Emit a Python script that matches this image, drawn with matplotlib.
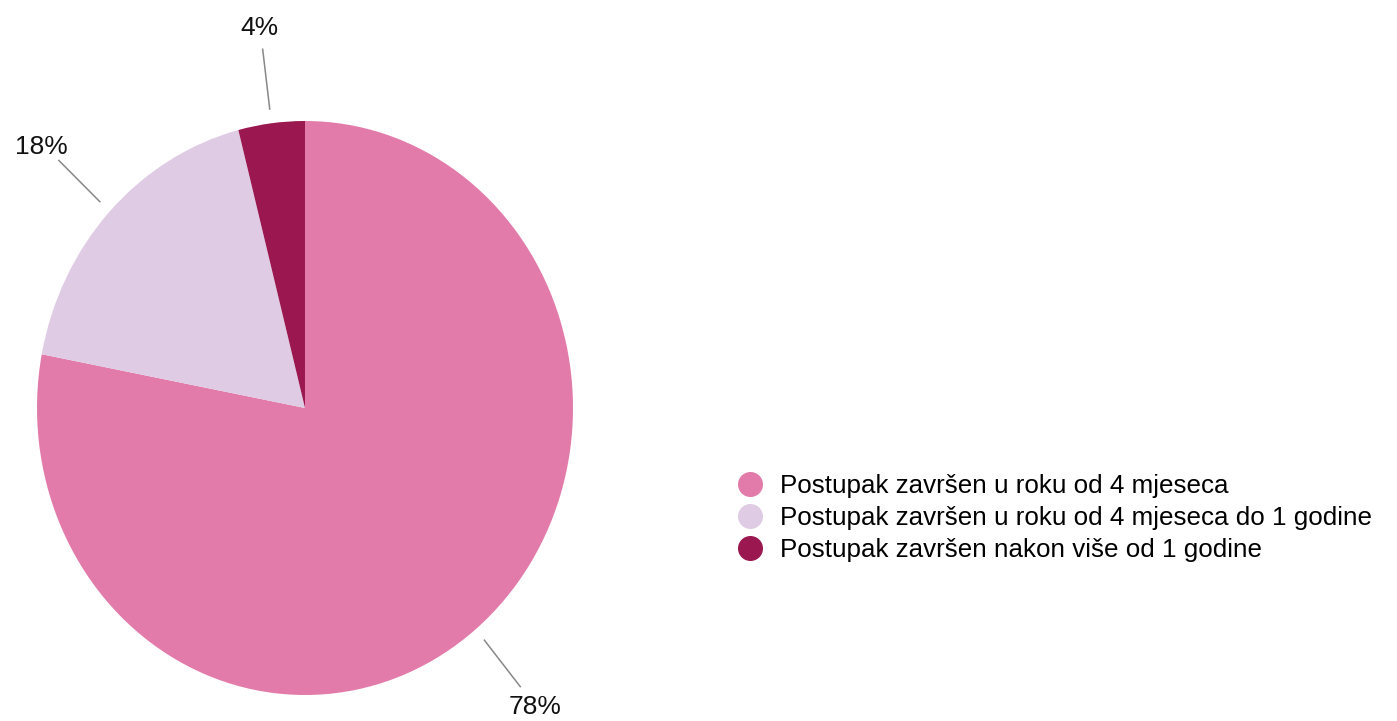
import numpy as np
import matplotlib.pyplot as plt
from matplotlib.lines import Line2D

plt.rcParams['font.family'] = ['Liberation Sans', 'DejaVu Sans']

# podaci
kategorije = ["Postupak završen u roku od 4 mjeseca",
              "Postupak završen u roku od 4 mjeseca do 1 godine",
              "Postupak završen nakon više od 1 godine"]
postoci = [78, 18, 4]
boje = ["#E27BAA", "#DFCCE4", "#9A1750"]

W, H = 1397, 721
fig = plt.figure(figsize=(W / 100, H / 100), dpi=100)

# os za pitu (malo razvucena po visini kao u originalu)
ax = fig.add_axes([37 / W, (H - 695) / H, 536 / W, 574 / H])
klinovi, _ = ax.pie(postoci, colors=boje, startangle=90, counterclock=False,
                    radius=1, wedgeprops=dict(linewidth=0))
ax.set_aspect('auto')
ax.set_xlim(-1, 1)
ax.set_ylim(-1, 1)
ax.axis('off')

# oznake s linijama
for klin, p in zip(klinovi, postoci):
    kut = np.deg2rad((klin.theta1 + klin.theta2) / 2)
    c, s = np.cos(kut), np.sin(kut)
    ax.plot([1.05 * c, 1.26 * c], [1.05 * s, 1.26 * s], color="#888888",
            lw=1.1, clip_on=False)
    ax.annotate(f"{p}%", xy=(1.26 * c, 1.26 * s), xytext=(17 * c, 17 * s),
                textcoords="offset points", ha="center", va="center_baseline",
                fontsize=19, color="#111111", annotation_clip=False)

# legenda
rucke = [Line2D([], [], marker="o", linestyle="none", markersize=17,
                markerfacecolor=b, markeredgecolor=b) for b in boje]
fig.legend(rucke, kategorije, loc="center left", bbox_to_anchor=(737 / W, 1 - 518 / H),
           frameon=False, fontsize=18.7, borderpad=0, borderaxespad=0,
           handlelength=1.0, handletextpad=0.64, labelspacing=0.30)

fig.savefig("out.png", dpi=100)
